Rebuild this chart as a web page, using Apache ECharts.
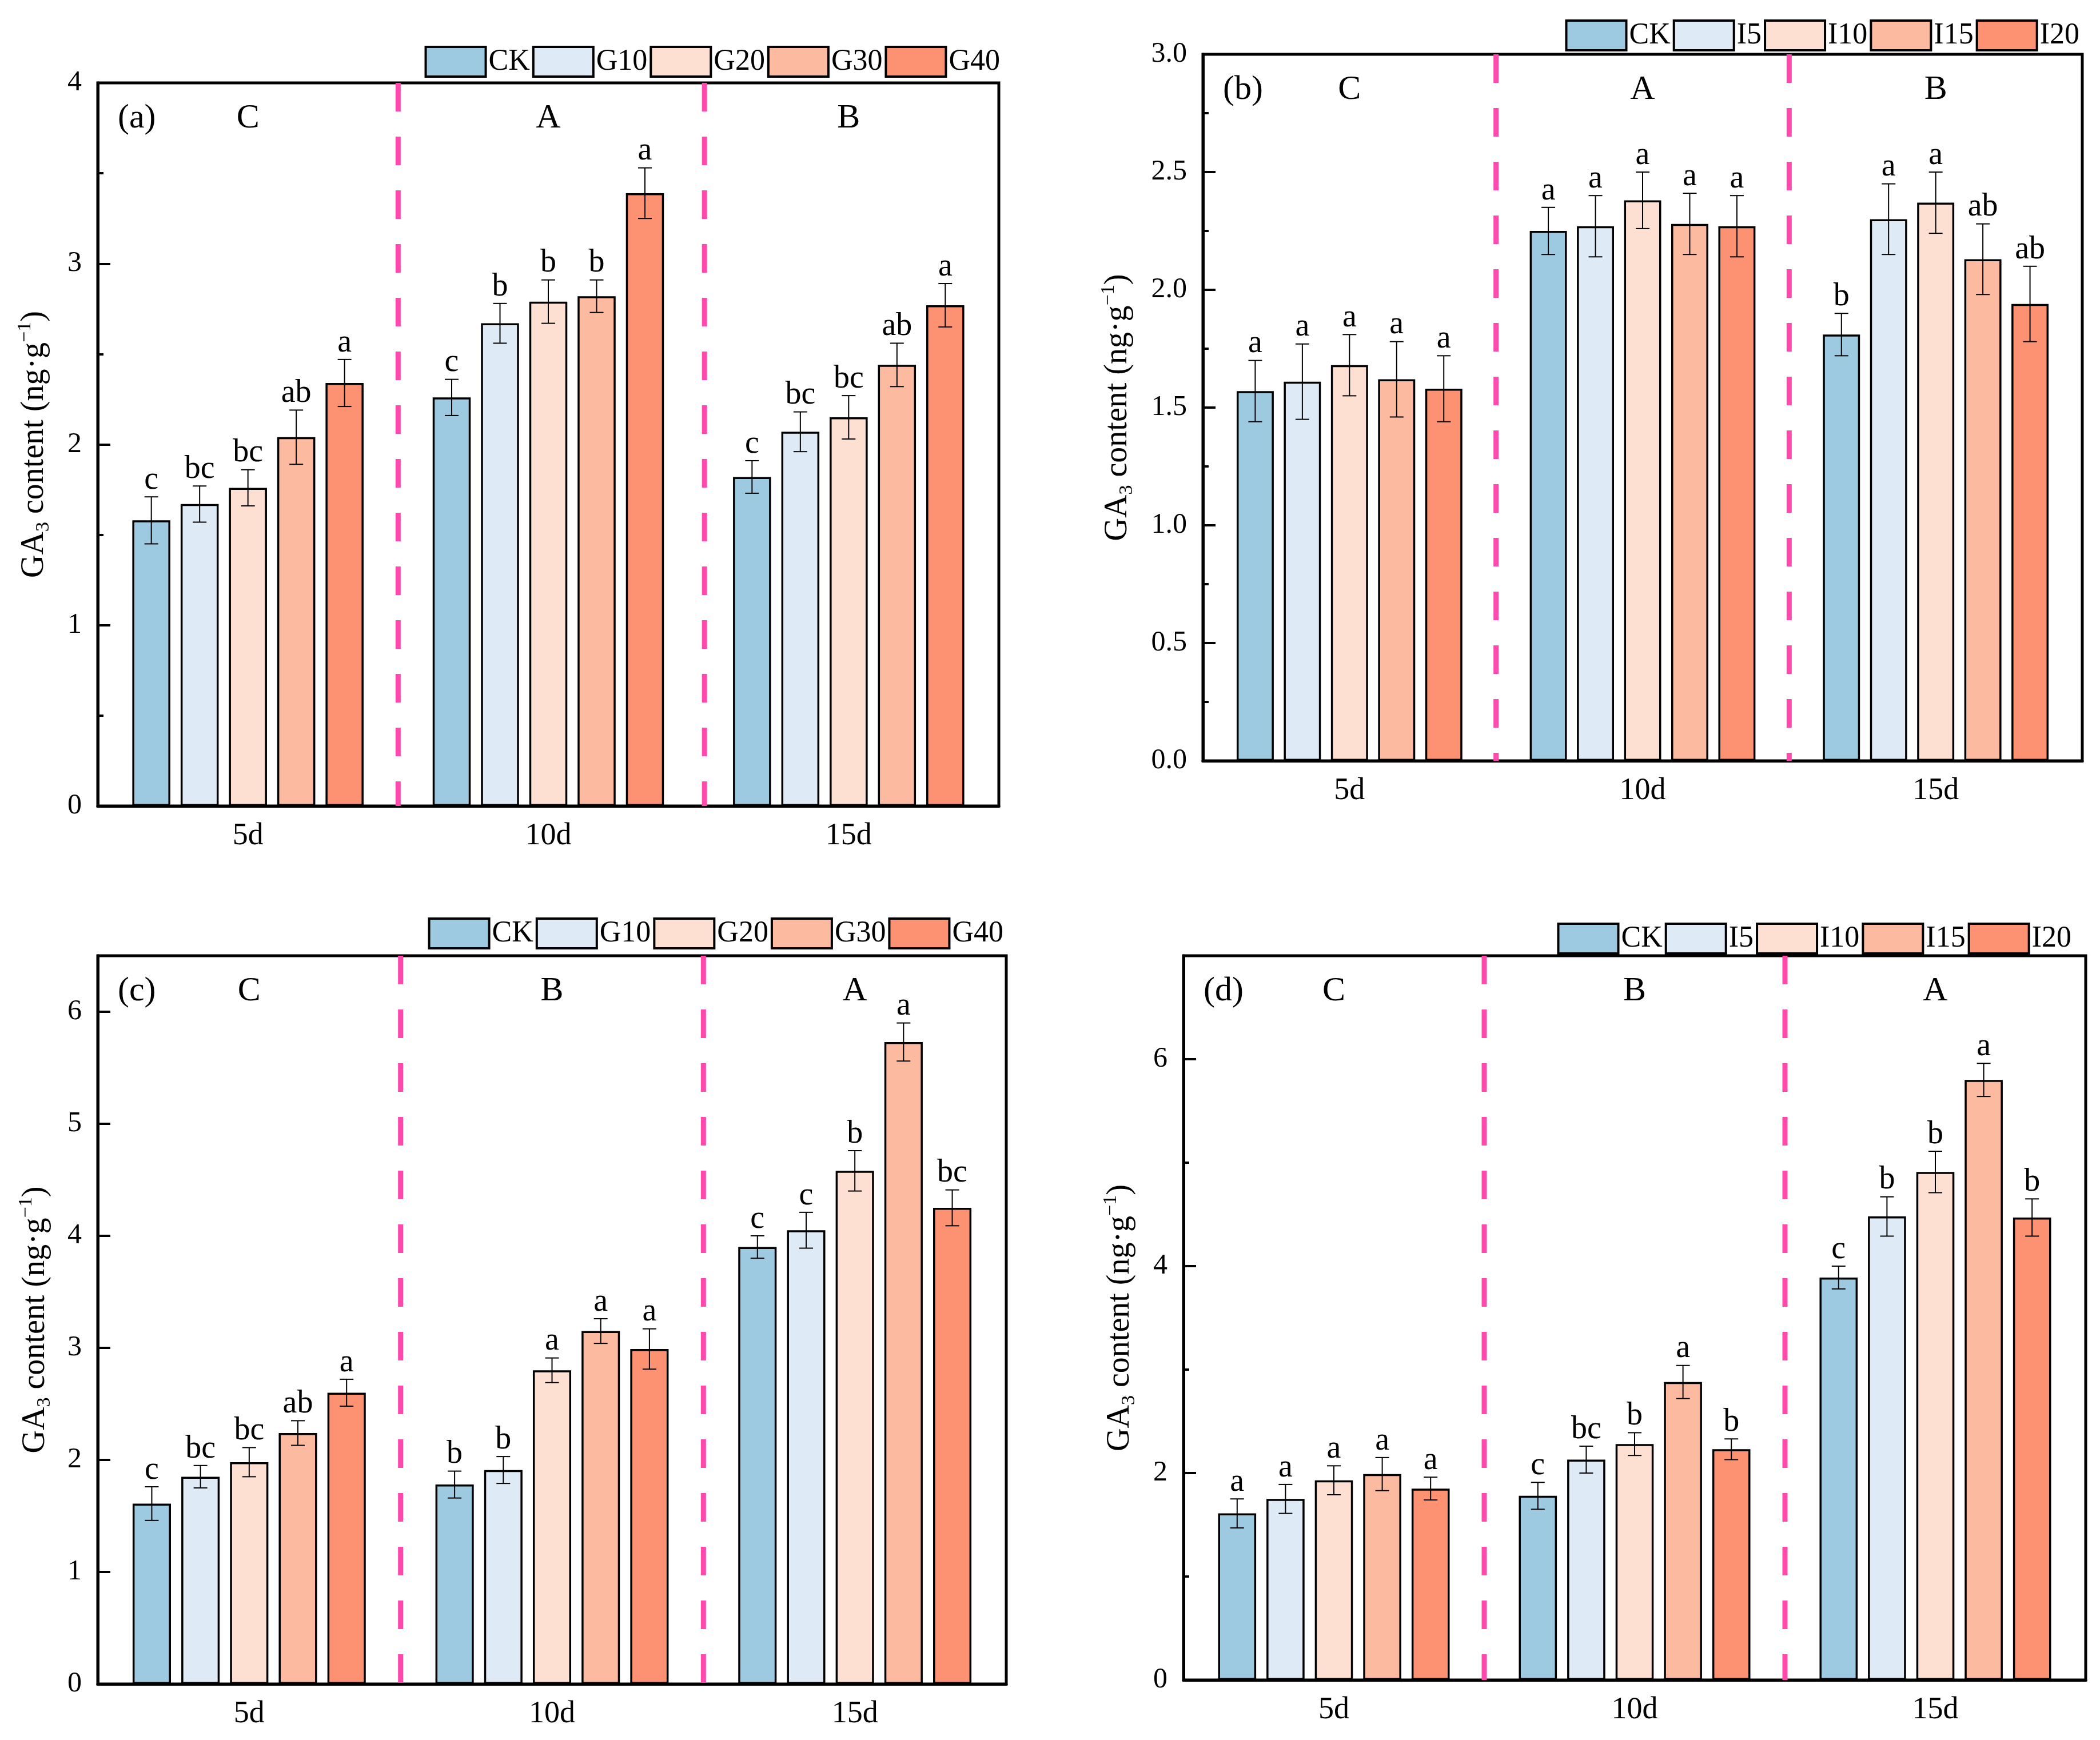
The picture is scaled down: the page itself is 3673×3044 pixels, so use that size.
<!DOCTYPE html>
<html>
<head>
<meta charset="utf-8">
<title>GA3 content</title>
<script src="https://cdn.jsdelivr.net/npm/echarts@6/dist/echarts.min.js"></script>
<style>
  html, body { margin: 0; padding: 0; background: #fff; }
  #main { width: 3673px; height: 3044px; }
</style>
</head>
<body>
<div id="main"></div>
<script>
// categories and treatments
var days = ['5d', '10d', '15d'];
var gNames = ['CK', 'G10', 'G20', 'G30', 'G40'];
var iNames = ['CK', 'I5', 'I10', 'I15', 'I20'];
var colors = ['#9ECAE1', '#DEEBF7', '#FEE0D2', '#FCBBA1', '#FC9272'];

// (a) rows = treatment, columns = 5d / 10d / 15d
var aMean = [[1.58, 2.26, 1.82], [1.67, 2.67, 2.07], [1.76, 2.79, 2.15], [2.04, 2.82, 2.44], [2.34, 3.39, 2.77]];
var aErr  = [[0.13, 0.10, 0.09], [0.10, 0.11, 0.11], [0.10, 0.12, 0.12], [0.15, 0.09, 0.12], [0.13, 0.14, 0.12]];
var aSig  = [['c', 'c', 'c'], ['bc', 'b', 'bc'], ['bc', 'b', 'bc'], ['ab', 'b', 'ab'], ['a', 'a', 'a']];
var aGroup = ['C', 'A', 'B'];

// (b)
var bMean = [[1.57, 2.25, 1.81], [1.61, 2.27, 2.30], [1.68, 2.38, 2.37], [1.62, 2.28, 2.13], [1.58, 2.27, 1.94]];
var bErr  = [[0.13, 0.10, 0.09], [0.16, 0.13, 0.15], [0.13, 0.12, 0.13], [0.16, 0.13, 0.15], [0.14, 0.13, 0.16]];
var bSig  = [['a', 'a', 'b'], ['a', 'a', 'a'], ['a', 'a', 'a'], ['a', 'a', 'ab'], ['a', 'a', 'ab']];
var bGroup = ['C', 'A', 'B'];

// (c)
var cMean = [[1.61, 1.78, 3.90], [1.85, 1.91, 4.05], [1.98, 2.80, 4.58], [2.24, 3.15, 5.73], [2.60, 2.99, 4.25]];
var cErr  = [[0.15, 0.12, 0.10], [0.10, 0.12, 0.16], [0.13, 0.11, 0.18], [0.11, 0.11, 0.17], [0.12, 0.18, 0.16]];
var cSig  = [['c', 'b', 'c'], ['bc', 'b', 'c'], ['bc', 'a', 'b'], ['ab', 'a', 'a'], ['a', 'a', 'bc']];
var cGroup = ['C', 'B', 'A'];

// (d)
var dMean = [[1.61, 1.78, 3.89], [1.75, 2.13, 4.48], [1.93, 2.28, 4.91], [1.99, 2.88, 5.80], [1.85, 2.23, 4.47]];
var dErr  = [[0.14, 0.13, 0.11], [0.14, 0.13, 0.19], [0.14, 0.11, 0.20], [0.16, 0.16, 0.16], [0.11, 0.10, 0.18]];
var dSig  = [['a', 'c', 'c'], ['a', 'bc', 'b'], ['a', 'b', 'b'], ['a', 'a', 'a'], ['a', 'b', 'b']];
var dGroup = ['C', 'B', 'A'];

var FONT = 'Liberation Serif';
var CAT_GAP = 0.23;
var BAR_GAP = 0.27;
var N = 5;

// layout of each panel (pixels) and axis setup
var panels = [
  { label: '(a)', names: gNames, mean: aMean, err: aErr, sig: aSig, group: aGroup,
    grid: { left: 171, top: 145, width: 1576, height: 1265 }, legend: { right: 1919, top: 75 },
    max: 4, interval: 1, minor: 0.5, dec: 0, nameGap: 78, dividers: [1, 2.02] },
  { label: '(b)', names: iNames, mean: bMean, err: bErr, sig: bSig, group: bGroup,
    grid: { left: 2104, top: 95, width: 1538, height: 1236 }, legend: { right: 31, top: 29 },
    max: 3, interval: 0.5, minor: 0.25, dec: 1, nameGap: 116, dividers: [1, 2] },
  { label: '(c)', names: gNames, mean: cMean, err: cErr, sig: cSig, group: cGroup,
    grid: { left: 171, top: 1672, width: 1589, height: 1274 }, legend: { right: 1913, top: 1600 },
    max: 6.5, interval: 1, minor: 0, dec: 0, nameGap: 76, dividers: [1, 2] },
  { label: '(d)', names: iNames, mean: dMean, err: dErr, sig: dSig, group: dGroup,
    grid: { left: 2070, top: 1672, width: 1578, height: 1267 }, legend: { right: 45, top: 1609 },
    max: 7, interval: 2, minor: 1, dec: 0, nameGap: 78, dividers: [1, 2] }
];

var myChart = echarts.init(document.getElementById('main'), null, { renderer: 'canvas' });

function errRender(p, i) {
  return function (params, api) {
    var band = api.size([1, 0])[0];
    var groupW = band * (1 - CAT_GAP);
    var w = groupW / (N + (N - 1) * BAR_GAP);
    var x = api.coord([api.value(0), 0])[0] - groupW / 2 + w / 2 + i * w * (1 + BAR_GAP);
    var m = api.value(1), e = api.value(2);
    var yT = api.coord([api.value(0), m + e])[1];
    var yB = api.coord([api.value(0), m - e])[1];
    var cap = 12;
    var ls = { stroke: '#000', lineWidth: 2 };
    return {
      type: 'group',
      children: [
        { type: 'line', shape: { x1: x, y1: yT, x2: x, y2: yB }, style: ls },
        { type: 'line', shape: { x1: x - cap, y1: yT, x2: x + cap, y2: yT }, style: ls },
        { type: 'line', shape: { x1: x - cap, y1: yB, x2: x + cap, y2: yB }, style: ls },
        { type: 'text', x: x, y: yT - 1, style: {
            text: p.sig[i][params.dataIndex], fill: '#000', fontSize: 56, fontFamily: FONT,
            align: 'center', verticalAlign: 'bottom' } }
      ]
    };
  };
}

function groupRender(p) {
  return function (params, api) {
    var pt = api.coord([api.value(0), p.max]);
    return { type: 'text', x: pt[0], y: pt[1] + 62, style: {
      text: p.group[params.dataIndex], fill: '#000', fontSize: 60, fontFamily: FONT,
      align: 'center', verticalAlign: 'middle' } };
  };
}

var option = {
  animation: false,
  backgroundColor: '#fff',
  textStyle: { fontFamily: FONT, color: '#000' },
  grid: [], xAxis: [], yAxis: [], legend: [], series: [], graphic: []
};

panels.forEach(function (p, k) {
  option.grid.push({
    left: p.grid.left, top: p.grid.top, width: p.grid.width, height: p.grid.height,
    show: true, borderColor: '#000', borderWidth: 5, backgroundColor: 'transparent'
  });
  option.xAxis.push({
    type: 'category', gridIndex: k, data: days,
    axisLine: { lineStyle: { color: '#000', width: 5 } },
    axisTick: { show: false },
    axisLabel: { fontSize: 54, fontFamily: FONT, color: '#000', margin: 26 }
  });
  option.xAxis.push({ type: 'value', gridIndex: k, min: 0, max: 3, show: false });

  var showMax = Math.abs(p.max / p.interval - Math.round(p.max / p.interval)) < 1e-9;
  option.yAxis.push({
    type: 'value', gridIndex: k, position: 'left', min: 0, max: p.max, interval: p.interval,
    name: '{n|GA}{s|3}{n| content (ng·g}{p|−1}{n|)}',
    nameLocation: 'middle', nameGap: p.nameGap,
    nameTextStyle: {
      fontFamily: FONT, color: '#000', fontSize: 56,
      rich: {
        n: { fontSize: 56, fontFamily: FONT, color: '#000', lineHeight: 66 },
        s: { fontSize: 34, fontFamily: FONT, color: '#000', verticalAlign: 'bottom', lineHeight: 34 },
        p: { fontSize: 34, fontFamily: FONT, color: '#000', verticalAlign: 'top', lineHeight: 34 }
      }
    },
    axisLine: { show: true, lineStyle: { color: '#000', width: 5 } },
    axisTick: { show: true, inside: true, length: 22, lineStyle: { color: '#000', width: 4 } },
    splitLine: { show: false },
    axisLabel: {
      fontSize: 50, fontFamily: FONT, color: '#000', margin: 28, showMaxLabel: showMax,
      formatter: function (v) { return v.toFixed(p.dec); }
    }
  });
  option.yAxis.push({
    type: 'value', gridIndex: k, position: 'left', min: 0, max: p.max,
    interval: p.minor || p.interval, show: p.minor > 0,
    axisLine: { show: false }, axisLabel: { show: false }, splitLine: { show: false },
    axisTick: { show: true, inside: true, length: 10, lineStyle: { color: '#000', width: 4 } }
  });

  option.legend.push({
    data: p.names, right: p.legend.right, top: p.legend.top, orient: 'horizontal',
    icon: 'rect', itemWidth: 105, itemHeight: 52, itemGap: 4, selectedMode: false,
    itemStyle: { borderColor: '#000', borderWidth: 4 },
    textStyle: { fontSize: 52, fontFamily: FONT, color: '#000' }
  });

  p.names.forEach(function (nm, i) {
    option.series.push({
      type: 'bar', name: nm, xAxisIndex: 2 * k, yAxisIndex: 2 * k,
      data: p.mean[i], barCategoryGap: (CAT_GAP * 100) + '%', barGap: (BAR_GAP * 100) + '%',
      itemStyle: { color: colors[i], borderColor: '#000', borderWidth: 3.5 },
      silent: true
    });
  });
  p.names.forEach(function (nm, i) {
    option.series.push({
      type: 'custom', name: 'err' + k + '_' + i, xAxisIndex: 2 * k, yAxisIndex: 2 * k,
      data: days.map(function (d, j) { return [j, p.mean[i][j], p.err[i][j]]; }),
      renderItem: errRender(p, i), z: 5, silent: true, clip: false
    });
  });
  option.series.push({
    type: 'custom', name: 'grp' + k, xAxisIndex: 2 * k, yAxisIndex: 2 * k,
    data: days.map(function (d, j) { return [j]; }),
    renderItem: groupRender(p), z: 5, silent: true, clip: false
  });
  p.dividers.forEach(function (pos, j) {
    option.series.push({
      type: 'line', name: 'div' + k + '_' + j, xAxisIndex: 2 * k + 1, yAxisIndex: 2 * k,
      data: [[pos, p.max], [pos, 0]], symbol: 'none', silent: true,
      lineStyle: { color: '#FF4AAD', width: 9, type: [50, 44], cap: 'butt' }, z: 1
    });
  });

  option.graphic.push({
    type: 'text', x: p.grid.left + 35, y: p.grid.top + 62, silent: true,
    style: { text: p.label, fill: '#000', fontSize: 60, fontFamily: FONT, align: 'left', verticalAlign: 'middle' }
  });
});

myChart.setOption(option);
</script>
</body>
</html>
